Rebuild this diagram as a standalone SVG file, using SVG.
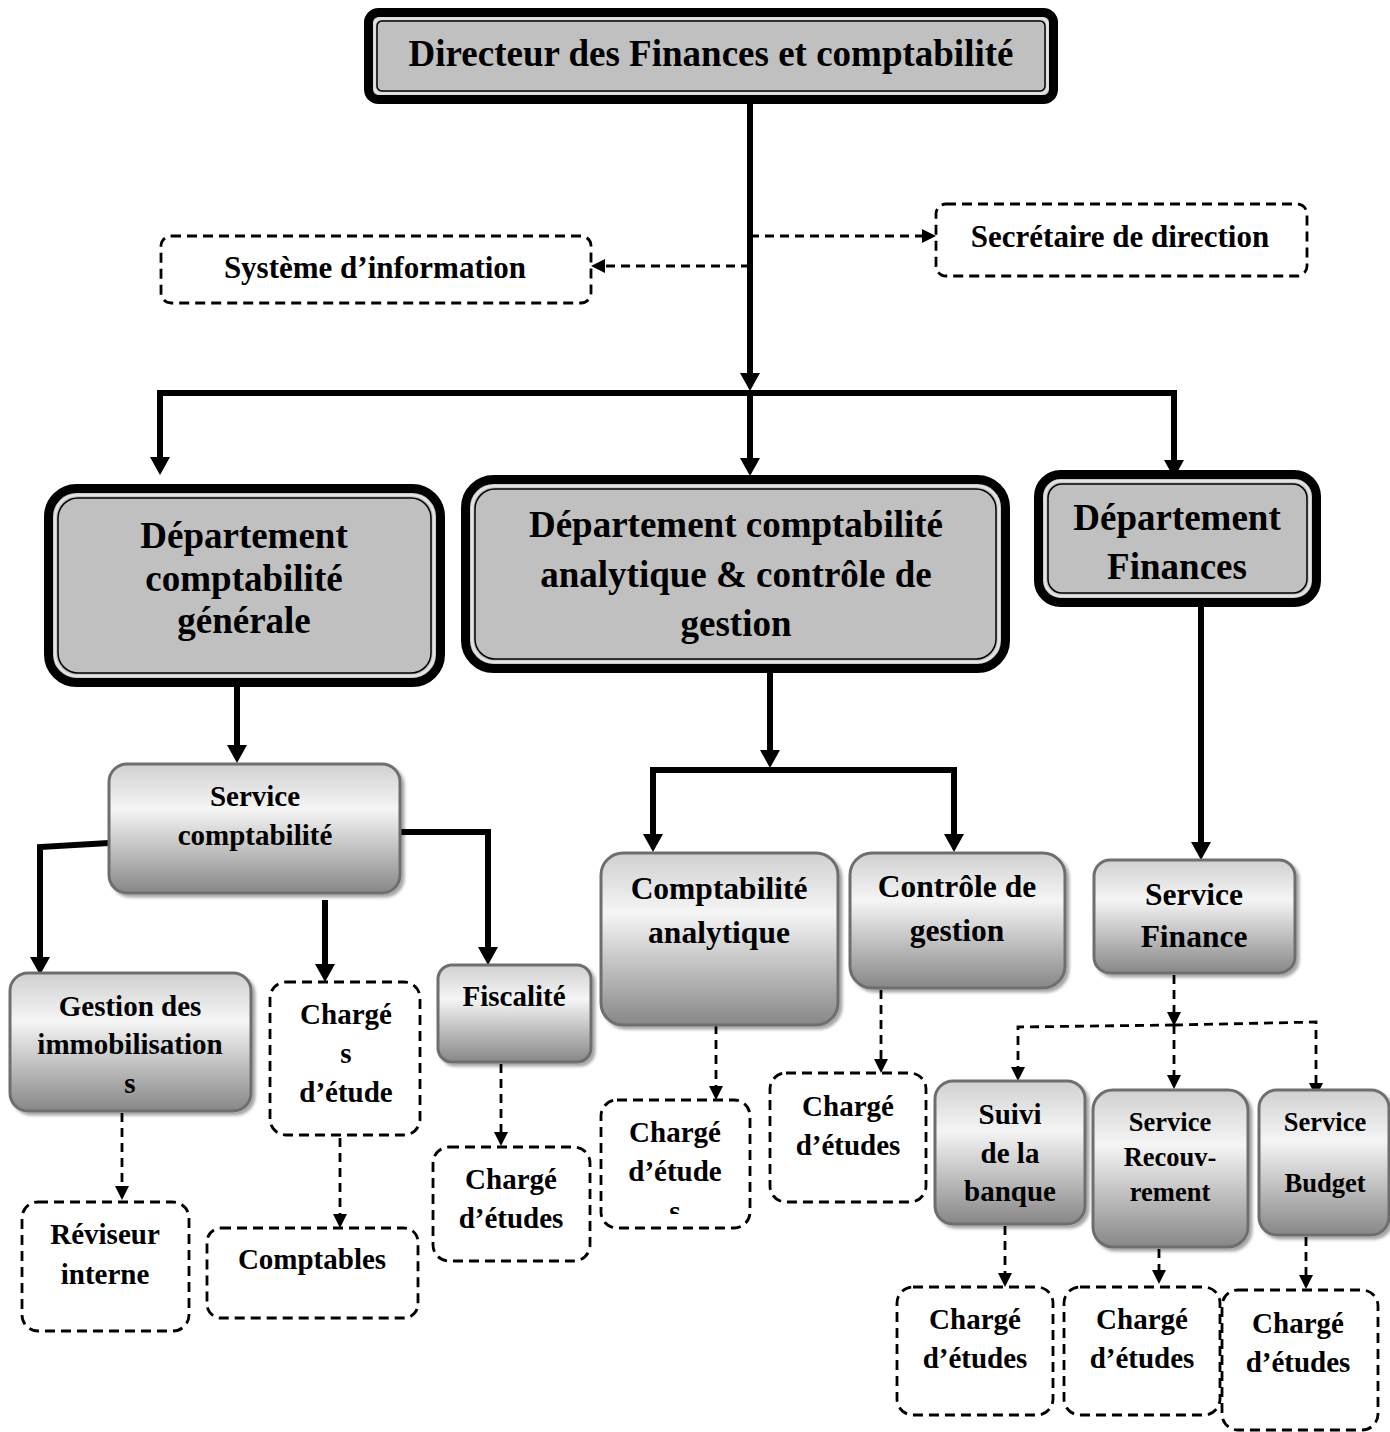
<svg xmlns="http://www.w3.org/2000/svg" width="1390" height="1432" viewBox="0 0 1390 1432">
<defs>
<linearGradient id="g" x1="0" y1="0" x2="0" y2="1">
<stop offset="0" stop-color="#d0d0d0"/>
<stop offset="0.35" stop-color="#f5f5f5"/>
<stop offset="1" stop-color="#878787"/>
</linearGradient>
<filter id="sh" x="-10%" y="-10%" width="125%" height="125%">
<feDropShadow dx="3" dy="3" stdDeviation="1.5" flood-color="#000" flood-opacity="0.35"/>
</filter>
<marker id="ab" viewBox="0 0 18 20" markerUnits="userSpaceOnUse" markerWidth="18" markerHeight="20" refX="10" refY="10" orient="auto">
<path d="M0,0 L18,10 L0,20 z" fill="#000"/>
</marker>
<marker id="as" viewBox="0 0 14 14" markerUnits="userSpaceOnUse" markerWidth="14" markerHeight="14" refX="7" refY="7" orient="auto">
<path d="M0,0 L14,7 L0,14 z" fill="#000"/>
</marker>
<clipPath id="clipS"><rect x="601" y="1100" width="150" height="114"/></clipPath>
</defs>
<style>
text{font-family:"Liberation Serif","Times New Roman",serif;font-weight:bold;fill:#000;text-anchor:middle}
.t37{font-size:37px}.t31{font-size:31px}.t315{font-size:31.5px}.t29{font-size:29px}.t265{font-size:26.5px}
.outer{fill:#c0c0c0;stroke:#000;stroke-width:9}
.gap{fill:none;stroke:#e4e4e4;stroke-width:2.5}
.inner{fill:none;stroke:#000;stroke-width:1.5}
.grad{fill:url(#g);stroke:#6e6e6e;stroke-width:3;filter:url(#sh)}
.dash{fill:#fff;stroke:#000;stroke-width:2.8;stroke-dasharray:10 6}
.solid{fill:none;stroke:#000;stroke-width:6;marker-end:url(#ab)}
.dl{fill:none;stroke:#000;stroke-width:2.8;stroke-dasharray:9 6;marker-end:url(#as)}
</style>
<rect width="1390" height="1432" fill="#fff"/>

<g id="connectors">
<path class="solid" d="M750,104 V383"/>
<path class="solid" d="M750,393 H160 V467"/>
<path class="solid" d="M750,393 V468"/>
<path class="solid" d="M750,393 H1174 V470"/>
<path class="dl" d="M750,236 H929"/>
<path class="dl" d="M750,266 H598"/>
<path class="solid" d="M237,687 V755"/>
<path class="solid" d="M109,843 L40,847 V967"/>
<path class="solid" d="M325,900 V974"/>
<path class="solid" d="M400,832 H488 V957"/>
<path class="solid" d="M770,673 V760"/>
<path class="solid" d="M770,770 H653 V844"/>
<path class="solid" d="M770,770 H954 V844"/>
<path class="solid" d="M1201,607 V852"/>
<path class="dl" d="M122,1113 V1193"/>
<path class="dl" d="M340,1138 V1221"/>
<path class="dl" d="M501,1064 V1139"/>
<path class="dl" d="M716,1025 V1093"/>
<path class="dl" d="M881,990 V1066"/>
<path class="dl" d="M1174,975 V1019"/>
<path class="dl" d="M1174,1025 L1018,1027 V1074"/>
<path class="dl" d="M1174,1025 V1082"/>
<path class="dl" d="M1174,1025 L1316,1022 V1090"/>
<path class="dl" d="M1005,1226 V1280"/>
<path class="dl" d="M1159,1249 V1277"/>
<path class="dl" d="M1306,1237 V1282"/>
</g>

<g id="directeur">
<rect class="outer" x="368.5" y="12.5" width="685" height="87" rx="10"/>
<rect class="gap" x="374.5" y="18.5" width="673" height="75" rx="6"/>
<rect class="inner" x="377" y="21" width="668" height="70" rx="5"/>
<text class="t37" x="711" y="66">Directeur des Finances et comptabilité</text>
</g>

<g id="systeme">
<rect class="dash" x="161" y="236" width="430" height="67" rx="10"/>
<text class="t31" x="375" y="278">Système d’information</text>
</g>

<g id="secretaire">
<rect class="dash" x="936" y="204" width="371" height="72" rx="10"/>
<text class="t31" x="1120" y="247">Secrétaire de direction</text>
</g>

<g id="dept-cg">
<rect class="outer" x="48.5" y="488.5" width="392" height="194" rx="28"/>
<rect class="gap" x="55" y="495" width="379" height="181" rx="22"/>
<rect class="inner" x="58" y="498" width="373" height="175" rx="20"/>
<text class="t37" x="244" y="548">Département</text>
<text class="t37" x="244" y="591">comptabilité</text>
<text class="t37" x="244" y="633">générale</text>
</g>

<g id="dept-ca">
<rect class="outer" x="465.5" y="479.5" width="540" height="189" rx="28"/>
<rect class="gap" x="472" y="486" width="527" height="176" rx="22"/>
<rect class="inner" x="475" y="489" width="521" height="170" rx="20"/>
<text class="t37" x="736" y="537">Département comptabilité</text>
<text class="t37" x="736" y="587">analytique &amp; contrôle de</text>
<text class="t37" x="736" y="636">gestion</text>
</g>

<g id="dept-f">
<rect class="outer" x="1038.5" y="474.5" width="278" height="128" rx="22"/>
<rect class="gap" x="1045" y="481" width="265" height="115" rx="16"/>
<rect class="inner" x="1048" y="484" width="259" height="109" rx="14"/>
<text class="t37" x="1177" y="530">Département</text>
<text class="t37" x="1177" y="579">Finances</text>
</g>

<g id="service-comptabilite">
<rect class="grad" x="109" y="764" width="291" height="129" rx="18"/>
<text class="t29" x="255" y="806">Service</text>
<text class="t29" x="255" y="845">comptabilité</text>
</g>

<g id="gestion-immo">
<rect class="grad" x="10" y="973" width="241" height="138" rx="18"/>
<text class="t29" x="130" y="1016">Gestion des</text>
<text class="t29" x="130" y="1054">immobilisation</text>
<text class="t29" x="130" y="1093">s</text>
</g>

<g id="charges-etude">
<rect class="dash" x="270" y="982" width="150" height="153" rx="16"/>
<text class="t29" x="346" y="1024">Chargé</text>
<text class="t29" x="346" y="1063">s</text>
<text class="t29" x="346" y="1102">d’étude</text>
</g>

<g id="fiscalite">
<rect class="grad" x="438" y="965" width="153" height="97" rx="14"/>
<text class="t29" x="514" y="1006">Fiscalité</text>
</g>

<g id="reviseur">
<rect class="dash" x="22" y="1202" width="167" height="129" rx="16"/>
<text class="t29" x="105" y="1244">Réviseur</text>
<text class="t29" x="105" y="1284">interne</text>
</g>

<g id="comptables">
<rect class="dash" x="207" y="1228" width="211" height="90" rx="14"/>
<text class="t29" x="312" y="1269">Comptables</text>
</g>

<g id="charge-fiscalite">
<rect class="dash" x="433" y="1147" width="157" height="114" rx="16"/>
<text class="t29" x="511" y="1189">Chargé</text>
<text class="t29" x="511" y="1228">d’études</text>
</g>

<g id="compta-analytique">
<rect class="grad" x="601" y="853" width="237" height="172" rx="22"/>
<text class="t315" x="719" y="899">Comptabilité</text>
<text class="t315" x="719" y="943">analytique</text>
</g>

<g id="controle-gestion">
<rect class="grad" x="850" y="853" width="215" height="135" rx="22"/>
<text class="t315" x="957" y="897">Contrôle de</text>
<text class="t315" x="957" y="941">gestion</text>
</g>

<g id="charge-ca">
<rect class="dash" x="601" y="1100" width="149" height="128" rx="16"/>
<text class="t29" x="675" y="1142">Chargé</text>
<text class="t29" x="675" y="1181">d’étude</text>
<text class="t29" x="675" y="1221" clip-path="url(#clipS)">s</text>
</g>

<g id="charge-cg">
<rect class="dash" x="770" y="1073" width="156" height="129" rx="16"/>
<text class="t29" x="848" y="1116">Chargé</text>
<text class="t29" x="848" y="1155">d’études</text>
</g>

<g id="service-finance">
<rect class="grad" x="1094" y="860" width="201" height="113" rx="16"/>
<text class="t315" x="1194" y="905">Service</text>
<text class="t315" x="1194" y="947">Finance</text>
</g>

<g id="suivi-banque">
<rect class="grad" x="935" y="1081" width="150" height="143" rx="18"/>
<text class="t29" x="1010" y="1124">Suivi</text>
<text class="t29" x="1010" y="1163">de la</text>
<text class="t29" x="1010" y="1201">banque</text>
</g>

<g id="service-recouvrement">
<rect class="grad" x="1093" y="1090" width="155" height="157" rx="20"/>
<text class="t265" x="1170" y="1131">Service</text>
<text class="t265" x="1170" y="1166">Recouv-</text>
<text class="t265" x="1170" y="1201">rement</text>
</g>

<g id="service-budget">
<rect class="grad" x="1259" y="1090" width="130" height="145" rx="18"/>
<text class="t265" x="1325" y="1131">Service</text>
<text class="t265" x="1325" y="1192">Budget</text>
</g>

<g id="charge-suivi">
<rect class="dash" x="897" y="1287" width="156" height="128" rx="16"/>
<text class="t29" x="975" y="1329">Chargé</text>
<text class="t29" x="975" y="1368">d’études</text>
</g>

<g id="charge-recouvrement">
<rect class="dash" x="1064" y="1287" width="156" height="128" rx="16"/>
<text class="t29" x="1142" y="1329">Chargé</text>
<text class="t29" x="1142" y="1368">d’études</text>
</g>

<g id="charge-budget">
<rect class="dash" x="1222" y="1290" width="156" height="140" rx="16"/>
<text class="t29" x="1298" y="1333">Chargé</text>
<text class="t29" x="1298" y="1372">d’études</text>
</g>
</svg>
